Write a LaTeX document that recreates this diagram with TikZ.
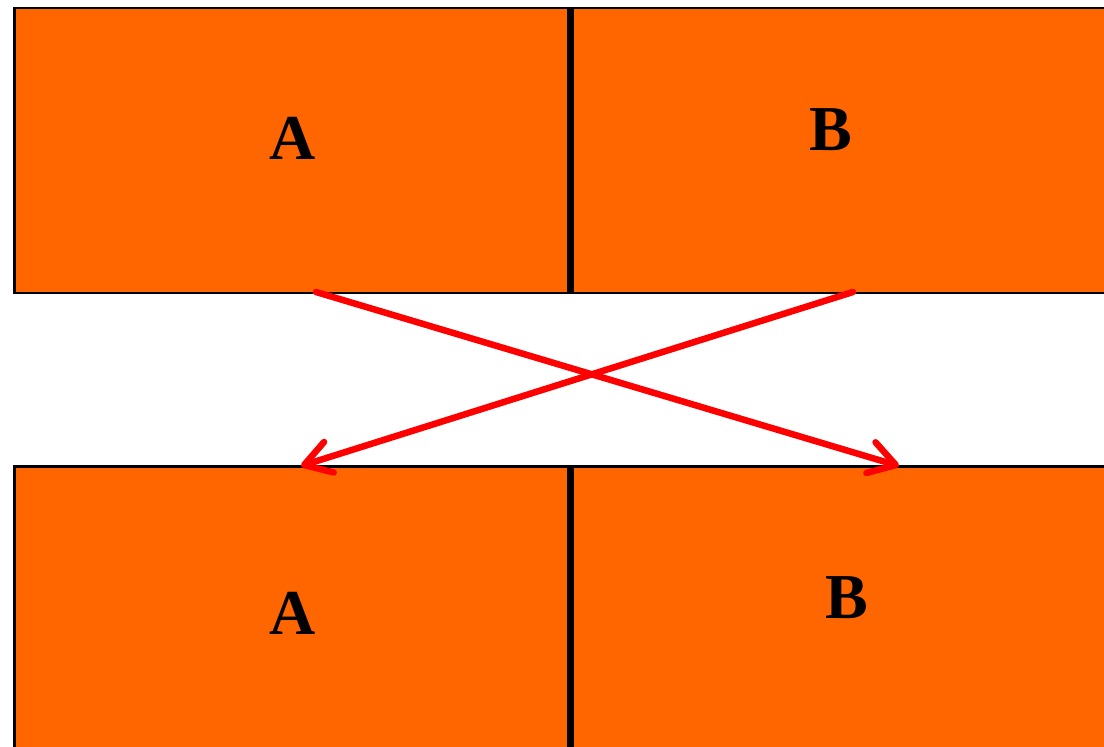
\documentclass[tikz,border=0pt]{standalone}
\usepackage{fontspec}
\setmainfont{Liberation Serif}
\usetikzlibrary{arrows.meta}
\definecolor{boxorange}{HTML}{FF6600}
\definecolor{arrowred}{HTML}{FF0000}
\tikzset{
  box/.style={draw=black, line width=2.5pt, fill=boxorange, rectangle, inner sep=0pt},
  lbl/.style={font=\fontsize{64}{70}\selectfont\bfseries, inner sep=0pt},
  divider/.style={draw=black, line width=7.5pt},
  swap/.style={draw=arrowred, line width=6.5pt, line cap=round,
    -{Straight Barb[length=26pt, width=32pt, line width=6.5pt, round]}}
}
\begin{document}
\begin{tikzpicture}[x=1pt, y=-1pt]
\useasboundingbox (0,0) rectangle (1104,747);
\clip (0,0) rectangle (1104,747);
% top row
\node[box, minimum width=555pt, minimum height=285pt, anchor=north west] (tA) at (13,6.5) {};
\node[box, minimum width=560pt, minimum height=285pt, anchor=north west] (tB) at (568,6.5) {};
\draw[divider] (tA.north east) -- (tA.south east);
% bottom row
\node[box, minimum width=555pt, minimum height=300pt, anchor=north west] (bA) at (13,465) {};
\node[box, minimum width=560pt, minimum height=300pt, anchor=north west] (bB) at (568,465) {};
\draw[divider] (bA.north east) -- (bA.south east);
% labels
\node[lbl] (la1) at (293,138) {A};
\node[lbl] (lb1) at (831,130) {B};
\node[lbl] (la2) at (293,613) {A};
\node[lbl] (lb2) at (847,598) {B};
% arrows
\coordinate (s1) at (316,292);
\coordinate (e1) at (899,466);
\coordinate (s2) at (853,292);
\coordinate (e2) at (301,466);
\draw[swap] (s1) -- (e1);
\draw[swap] (s2) -- (e2);
\end{tikzpicture}
\end{document}
